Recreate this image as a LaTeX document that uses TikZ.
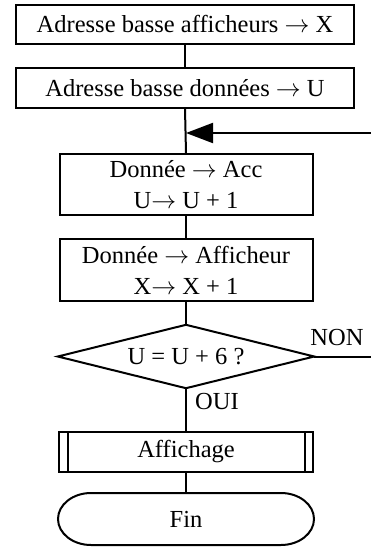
\documentclass[tikz,border=0pt]{standalone}
\usepackage{fontspec}
\setmainfont{Liberation Serif}
\usetikzlibrary{arrows.meta}
\newcommand{\ar}{\ensuremath{\rightarrow}}
\begin{document}
\begin{tikzpicture}[x=1pt,y=-1pt,
  every node/.style={font=\fontsize{24.5}{31}\selectfont, inner sep=0pt},
  proc/.style={draw, line width=2pt, rectangle, align=center},
  link/.style={line width=2pt}]
\useasboundingbox (0,0) rectangle (371,547);
\node[proc, minimum width=338, minimum height=39] (b1) at (185,24) {Adresse basse afficheurs \ar{} X};
\node[proc, minimum width=338, minimum height=40] (b2) at (185,88) {Adresse basse données \ar{} U};
\node[proc, minimum width=253, minimum height=61] (b3) at (186,184.5) {Donnée \ar{} Acc\\U\ar{} U + 1};
\node[proc, minimum width=253, minimum height=62] (b4) at (186,270) {Donnée \ar{} Afficheur\\X\ar{} X + 1};
\node[minimum width=256, minimum height=63] (d) at (186,356.5) {U = U + 6 ?};
\draw[link, line join=miter] (d.north) -- (d.east) -- (d.south) -- (d.west) -- cycle;
\node[proc, minimum width=254, minimum height=40] (af) at (186,452) {Affichage};
\draw[link] ([xshift=10]af.north west) -- ([xshift=10,yshift=2]af.south west);
\draw[link] ([xshift=-9]af.north east) -- ([xshift=-9,yshift=2]af.south east);
\node[minimum width=256, minimum height=52] (fin) at (186,519) {Fin};
\draw[link] (91,493) -- (281,493) arc[start angle=-90, end angle=90, x radius=33, y radius=26]
  -- (91,545) arc[start angle=90, end angle=270, x radius=33, y radius=26] -- cycle;
\coordinate (m) at (186,133);
\coordinate (r1) at (371,133);
\coordinate (r2) at (371,356.5);
\node (non) at (337,338) {NON};
\node[anchor=west] (oui) at (195,402) {OUI};
\draw[link] (b1.south) -- (b2.north);
\draw[link] (b2.south) -- (b3.north);
\draw[link] (b3.south) -- (b4.north);
\draw[link] (b4.south) -- (d.north);
\draw[link] (d.south) -- (af.north);
\draw[link] (af.south) -- (fin.north);
\draw[link] (d.east) -- (r2);
\draw[link, -{Triangle[length=27pt,width=20pt]}] (r1) -- (m);
\end{tikzpicture}
\end{document}
